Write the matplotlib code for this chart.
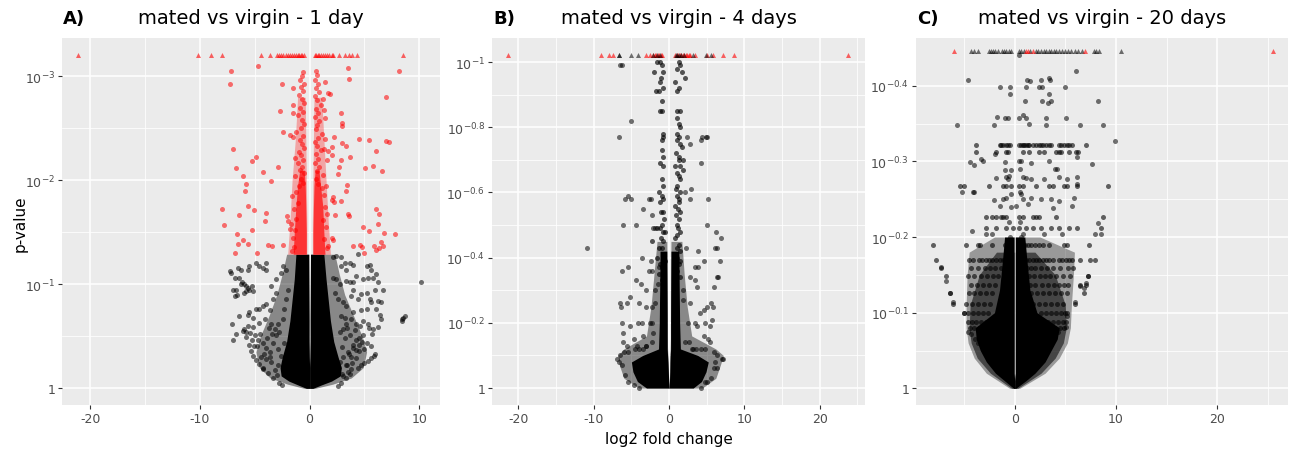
import matplotlib
matplotlib.use("Agg")
import matplotlib.pyplot as plt
import numpy as np

# ---- panel A : mated vs virgin - 1 day  (x = log2 FC, y = -log10 p) ----
a_tri_red_x = [-21.1, -10.2, -9.0, -8.0, -4.4, -3.6, -3.0, -2.8, -2.6, -2.4, -2.2, -2.0,
               -1.8, -1.6, -1.4, -1.25, -1.1, -0.95, -0.8, -0.65, -0.5, 0.45, 0.6, 0.75,
               0.9, 1.05, 1.2, 1.4, 1.6, 1.8, 2.0, 2.15, 2.7, 3.2, 3.6, 3.9, 4.3, 8.5]
a_tri_y = 3.21

a_red_outer = [(-7.2, 3.05), (8.2, 3.05), (-4.7, 3.10), (-7.3, 2.93), (3.5, 3.08), (3.6, 2.98),
               (7.0, 2.80), (-2.5, 2.93), (-2.7, 2.67), (-2.4, 2.47), (-7.0, 2.30), (-4.9, 2.23),
               (-5.3, 2.19), (-6.7, 2.12), (-6.1, 2.04), (-5.8, 1.97), (-5.9, 1.90), (-4.3, 2.08),
               (-2.9, 2.13), (-3.5, 1.99), (-8.0, 1.73), (-7.8, 1.57), (-6.4, 1.67), (-5.6, 1.75),
               (-5.1, 1.72), (-4.0, 1.69), (-4.1, 1.61), (-5.3, 1.52), (-6.6, 1.48), (-6.1, 1.43),
               (-6.5, 1.39), (-6.8, 1.30), (-5.6, 1.39), (-4.8, 1.30), (-3.8, 1.38), (-3.4, 1.37),
               (-2.4, 1.38), (-2.1, 1.66), (-2.0, 1.61), (-1.8, 1.53), (4.5, 2.40), (5.4, 2.39),
               (7.0, 2.38), (7.2, 2.37), (6.1, 2.28), (5.8, 2.14), (5.1, 2.12), (6.6, 2.09),
               (2.9, 2.20), (2.7, 2.13), (2.6, 2.06), (3.7, 2.23), (3.3, 2.33), (3.0, 2.36),
               (2.2, 2.42), (2.0, 2.24), (1.7, 2.28), (3.4, 1.96), (3.3, 1.90), (2.0, 1.81),
               (2.2, 1.79), (2.9, 1.80), (3.5, 1.68), (3.6, 1.66), (6.1, 1.73), (6.3, 1.68),
               (6.2, 1.58), (4.9, 1.55), (5.4, 1.51), (6.8, 1.49), (7.8, 1.48), (5.9, 1.37),
               (6.3, 1.35), (6.5, 1.41), (4.0, 1.37), (4.6, 1.38), (4.8, 1.36), (5.0, 1.30),
               (6.1, 1.33), (6.7, 1.37), (2.3, 1.67), (2.0, 1.45), (2.1, 1.43), (1.7, 1.37),
               (2.9, 2.65), (3.0, 2.55), (3.0, 2.52), (1.4, 2.60), (1.3, 2.68), (1.2, 2.78),
               (1.7, 2.84), (1.9, 2.83), (1.4, 2.95), (-1.5, 2.89), (-1.5, 2.73), (-1.5, 2.65),
               (-1.8, 2.44), (-1.5, 2.42), (1.4, 2.40), (2.0, 2.32), (1.6, 2.20), (2.1, 1.84)]

a_red_column = [(-0.6, 3.04), (-0.7, 3.00), (-0.9, 2.97), (-0.5, 2.93), (-0.8, 2.90), (-0.6, 2.86),
                (-1.0, 2.82), (-0.7, 2.78), (-0.5, 2.74), (-0.9, 2.70), (-0.6, 2.66), (-1.1, 2.63),
                (-0.7, 2.58), (-0.5, 2.54), (-0.8, 2.50), (-1.2, 2.47), (-0.6, 2.43), (-0.9, 2.39),
                (-0.7, 2.35), (-0.5, 2.31), (-1.0, 2.27), (-0.8, 2.24), (-0.6, 2.20), (-1.1, 2.17),
                (-0.7, 2.13), (-0.9, 2.10), (-0.5, 2.07), (-1.3, 2.04), (-0.8, 2.01), (-0.6, 1.98),
                (-1.0, 1.95), (-1.2, 1.89), (-1.1, 1.78), (-1.4, 1.73), (-1.2, 1.63), (-1.3, 1.52),
                (-1.4, 1.36), (-1.5, 1.45), (-1.6, 1.32), (-1.7, 1.58), (-1.6, 1.85), (-1.3, 2.22),
                (0.6, 3.05), (0.7, 3.01), (0.5, 2.97), (0.8, 2.93), (0.6, 2.89), (0.9, 2.85),
                (0.5, 2.81), (0.7, 2.77), (1.0, 2.73), (0.6, 2.69), (0.8, 2.65), (0.5, 2.61),
                (0.9, 2.57), (0.7, 2.53), (0.6, 2.49), (1.1, 2.45), (0.8, 2.41), (0.5, 2.37),
                (0.7, 2.33), (1.0, 2.29), (0.6, 2.25), (0.8, 2.21), (0.5, 2.17), (0.9, 2.13),
                (0.7, 2.09), (1.2, 2.05), (0.6, 2.01), (0.8, 1.97), (1.1, 1.93), (1.3, 1.86),
                (1.4, 1.74), (1.2, 1.62), (1.5, 1.55), (1.3, 1.44), (1.6, 1.35), (1.6, 1.68),
                (1.5, 1.95), (1.3, 2.3)]

# dense part of the significant columns: y, left lobe (xmin, xmax), right lobe (xmin, xmax)
a_red_core_y = [1.29, 1.5, 1.75, 1.95, 2.1]
a_red_left = ([-1.5, -1.4, -1.25, -1.1, -0.9], [-0.3, -0.3, -0.35, -0.4, -0.5])
a_red_right = ([0.3, 0.3, 0.35, 0.4, 0.5], [1.4, 1.3, 1.2, 1.0, 0.85])
a_red_halo_y = [1.29, 1.6, 2.0, 2.4, 2.8]
a_red_halo_left = ([-2.0, -1.8, -1.6, -1.3, -1.1], [-0.25, -0.25, -0.3, -0.35, -0.4])
a_red_halo_right = ([0.25, 0.25, 0.3, 0.35, 0.4], [1.9, 1.7, 1.5, 1.3, 1.1])

a_core_y = [0.0, 0.03, 0.07, 0.12, 0.2, 0.3, 0.45, 0.65, 0.85, 1.05, 1.29]
a_core_left = ([-0.3, -1.0, -1.9, -2.6, -2.7, -2.5, -2.1, -1.8, -1.6, -1.4, -1.25],
               [0.0, 0.0, 0.0, 0.0, 0.0, -0.03, -0.05, -0.05, -0.06, -0.07, -0.08])
a_core_right = ([0.0, 0.0, 0.0, 0.0, 0.0, 0.03, 0.05, 0.05, 0.06, 0.07, 0.08],
                [0.3, 1.0, 2.0, 2.8, 2.9, 2.6, 2.2, 1.9, 1.7, 1.5, 1.3])
a_halo_y = [0.0, 0.04, 0.1, 0.2, 0.35, 0.5, 0.7, 0.9, 1.1, 1.29]
a_halo_left = ([-0.5, -2.0, -3.6, -4.6, -4.9, -4.5, -3.7, -3.0, -2.5, -2.1],
               [0.0, 0.0, 0.0, 0.0, -0.03, -0.05, -0.05, -0.06, -0.07, -0.08])
a_halo_right = ([0.0, 0.0, 0.0, 0.0, 0.03, 0.05, 0.05, 0.06, 0.07, 0.08],
                [0.5, 2.1, 3.8, 4.9, 5.2, 4.8, 4.0, 3.2, 2.7, 2.3])

a_black = [(-7.3, 1.13), (-7.15, 1.11), (-6.85, 1.06), (-6.4, 1.06), (-6.15, 1.02), (-5.95, 1.00),
           (-5.85, 0.98), (-5.6, 0.97), (-5.5, 0.95), (-5.8, 0.94), (-5.95, 0.92), (-7.0, 0.95),
           (-6.85, 0.89), (-6.65, 0.90), (-5.3, 0.98), (-5.2, 0.94), (-6.3, 1.00), (-4.9, 1.21),
           (-4.6, 1.18), (-4.3, 1.16), (-4.0, 1.21), (-4.0, 1.14), (-5.5, 1.18), (-5.6, 1.14),
           (-6.25, 1.14), (-6.55, 1.16), (-6.75, 0.95), (-6.4, 0.70), (-5.6, 0.71), (-5.2, 0.68),
           (-5.5, 0.73), (-4.9, 0.76), (-4.6, 0.76), (-4.3, 0.79), (-4.0, 0.81), (-3.65, 0.75),
           (-3.35, 0.86), (-3.05, 0.92), (-3.5, 0.98), (-3.05, 1.05), (-2.6, 1.11), (-2.45, 1.18),
           (-2.15, 1.14), (-7.05, 0.62), (-6.95, 0.47), (-6.7, 0.52), (-5.95, 0.57), (-5.8, 0.54),
           (-5.2, 0.59), (-5.0, 0.51), (-4.7, 0.47), (-4.3, 0.44), (-4.0, 0.39), (-3.65, 0.35),
           (-4.6, 0.63), (-4.1, 0.67), (-3.5, 0.62), (-3.2, 0.57), (-3.05, 0.51), (-3.35, 0.44),
           (-2.9, 0.38), (-2.6, 0.31), (-3.5, 0.25), (-4.0, 0.28), (-4.3, 0.19), (-2.75, 0.54),
           (-2.45, 0.67), (-2.3, 0.76), (-2.15, 0.86), (-2.0, 0.95), (-2.3, 0.44), (-2.15, 0.25),
           (-6.1, 0.55), (-5.8, 0.49), (-5.55, 0.42), (-5.35, 0.36), (-5.15, 0.31), (-4.9, 0.27),
           (-4.6, 0.23), (-4.3, 0.20), (-5.6, 0.60), (-5.4, 0.53), (-5.25, 0.47), (-5.1, 0.41),
           (-3.8, 0.15), (-3.2, 0.18), (-2.9, 0.22), (-3.6, 0.30), (-4.2, 0.33), (-3.9, 0.48),
           (-3.4, 0.52), (-2.9, 0.62), (-3.7, 0.58), (-4.5, 0.52), (-4.8, 0.41), (-4.4, 0.30),
           (-3.0, 0.13), (-3.3, 0.10), (-2.8, 0.05), (-2.5, 0.03),
           (2.1, 1.26), (2.45, 1.27), (2.9, 1.26), (3.2, 1.21), (3.65, 1.21), (4.4, 1.29),
           (2.9, 1.18), (3.95, 1.19), (3.35, 1.14), (5.2, 1.18), (5.5, 1.19), (5.6, 1.14),
           (6.1, 1.10), (5.8, 1.06), (5.3, 1.06), (4.85, 1.05), (4.25, 1.08), (2.1, 1.06),
           (2.45, 1.05), (2.75, 1.00), (3.35, 1.03), (3.65, 1.02), (4.0, 1.02), (6.2, 1.02),
           (6.7, 0.95), (5.95, 0.95), (5.2, 0.92), (3.95, 0.95), (3.8, 0.89), (4.4, 0.86),
           (4.7, 0.91), (5.5, 0.86), (5.6, 0.83), (6.25, 0.84), (6.5, 0.83), (6.1, 0.76),
           (5.2, 0.76), (4.7, 0.75), (3.95, 0.73), (3.35, 0.79), (3.05, 0.83), (2.6, 0.86),
           (2.3, 0.92), (6.55, 0.67), (6.4, 0.71), (6.25, 0.59), (5.8, 0.57), (5.3, 0.62),
           (4.85, 0.65), (4.25, 0.62), (3.8, 0.67), (3.35, 0.62), (3.05, 0.57), (2.75, 0.54),
           (3.65, 0.51), (4.25, 0.47), (4.85, 0.51), (5.2, 0.44), (5.6, 0.41), (5.0, 0.38),
           (4.55, 0.36), (3.95, 0.39), (3.5, 0.35), (3.05, 0.30), (2.75, 0.25), (3.35, 0.22),
           (3.8, 0.19), (3.65, 0.14), (3.05, 0.12), (10.2, 1.02), (8.4, 0.67), (8.5, 0.68),
           (8.7, 0.70), (8.45, 0.65), (4.4, 0.20), (4.7, 0.22), (5.0, 0.24), (5.3, 0.26),
           (5.6, 0.29), (5.9, 0.31), (6.0, 0.33), (3.0, 0.14), (3.4, 0.22), (3.8, 0.30),
           (4.2, 0.37), (4.5, 0.42), (4.75, 0.45), (3.3, 0.10), (3.5, 0.16), (3.9, 0.24),
           (4.2, 0.29), (3.6, 0.33), (4.0, 0.42), (4.5, 0.48), (3.2, 0.48), (3.0, 0.40),
           (3.4, 0.58), (4.1, 0.56), (4.6, 0.60), (5.4, 0.58), (5.7, 0.52), (2.9, 0.70),
           (3.2, 0.68), (2.9, 0.05), (2.6, 0.02)]

# ---- panel B : mated vs virgin - 4 days ----
b_tri_red_x = [-21.4, -9.1, -8.0, -7.4, -3.0, -2.5, -2.1, -1.9, -1.7, -1.5, -1.3, -1.1, -0.9,
               0.8, 1.0, 1.2, 1.4, 1.6, 1.8, 2.0, 2.2, 2.4, 2.6, 2.8, 3.4, 5.0, 5.8, 7.1, 8.6, 23.8]
b_tri_black_x = [-6.7, -6.6, -5.0, -4.1, -2.2, -1.6, -1.2, 0.9, 1.1, 1.3, 1.6, 2.0, 3.2, 4.9, 5.5]
b_tri_y = 1.023

b_core_y = [0.0, 0.02, 0.05, 0.08, 0.1, 0.12, 0.2, 0.3, 0.42]
b_core_left = ([-3.0, -4.2, -4.8, -5.0, -3.5, -1.4, -1.3, -1.25, -1.2],
               [0.0, -0.05, -0.1, -0.15, -0.2, -0.25, -0.25, -0.27, -0.3])
b_core_right = ([0.0, 0.05, 0.1, 0.12, 0.15, 0.2, 0.2, 0.22, 0.25],
                [3.2, 4.3, 4.9, 5.2, 3.8, 1.5, 1.4, 1.35, 1.3])
b_halo_y = [0.0, 0.03, 0.07, 0.1, 0.12, 0.16, 0.25, 0.35, 0.45]
b_halo_left = ([-4.0, -6.0, -6.6, -6.8, -6.0, -3.0, -2.4, -2.0, -1.6],
               [0.0, -0.05, -0.1, -0.15, -0.2, -0.25, -0.25, -0.27, -0.3])
b_halo_right = ([0.0, 0.05, 0.1, 0.12, 0.15, 0.2, 0.2, 0.22, 0.25],
                [4.4, 6.2, 6.8, 7.2, 6.2, 3.0, 2.4, 2.0, 1.7])

b_column = [(-1.6, 1.0), (-1.2, 1.0), (-1.0, 0.99), (-0.75, 0.97), (-2.0, 0.97), (-1.2, 0.94),
            (-0.85, 0.92), (-1.4, 0.91), (-1.7, 0.91), (-1.1, 0.95), (-1.0, 0.85), (-1.2, 0.85),
            (-0.85, 0.78), (-0.75, 0.77), (-0.9, 0.76), (-1.0, 0.73), (-0.75, 0.71), (-1.2, 0.69),
            (-0.75, 0.68), (-1.3, 0.60), (-1.0, 0.59), (-0.75, 0.58), (-1.2, 0.57), (-0.85, 0.54),
            (-1.1, 0.54), (-1.6, 0.49), (-1.2, 0.49), (-0.75, 0.48), (-0.5, 0.48), (-2.3, 0.45),
            (-0.75, 0.45), (-1.0, 0.43), (-0.85, 0.41), (-1.6, 0.40), (-1.0, 0.37), (-0.75, 0.36),
            (-1.4, 0.35), (-1.0, 0.33), (-0.8, 0.40), (-0.9, 0.50), (-1.0, 0.64), (-0.9, 0.88),
            (-0.8, 0.62), (-1.1, 0.46), (-0.7, 0.52), (-1.3, 0.43), (-0.6, 0.39), (-1.2, 0.38),
            (1.25, 1.0), (1.45, 0.99), (1.0, 0.98), (1.7, 0.97), (2.1, 0.95), (0.8, 0.94),
            (1.25, 0.92), (1.0, 0.91), (1.45, 0.85), (1.0, 0.85), (1.1, 0.83), (1.35, 0.81),
            (1.45, 0.80), (1.0, 0.78), (1.25, 0.77), (1.1, 0.76), (1.45, 0.75), (1.7, 0.74),
            (1.25, 0.71), (1.9, 0.70), (0.8, 0.68), (1.45, 0.68), (1.9, 0.67), (1.25, 0.65),
            (1.45, 0.64), (1.0, 0.62), (1.45, 0.60), (1.0, 0.59), (1.25, 0.58), (0.8, 0.56),
            (1.45, 0.54), (1.25, 0.52), (1.0, 0.50), (1.45, 0.48), (0.8, 0.46), (1.25, 0.44),
            (1.45, 0.42), (1.0, 0.40), (1.25, 0.38), (1.0, 0.36), (1.45, 0.34), (1.1, 0.47),
            (1.2, 0.55), (0.9, 0.61), (1.3, 0.70), (0.9, 0.72), (1.0, 0.66), (1.3, 0.57),
            (0.9, 0.53), (1.1, 0.43), (0.7, 0.41), (1.5, 0.39), (0.9, 0.37), (1.2, 0.49)]

b_black = [(2.4, 0.77), (5.0, 0.77), (4.4, 0.77), (2.8, 0.75), (4.3, 0.69), (2.9, 0.61), (2.1, 0.60),
           (2.8, 0.58), (5.1, 0.58), (-5.8, 0.58), (-5.4, 0.59), (-5.0, 0.58), (-2.7, 0.58),
           (-2.4, 0.58), (-3.5, 0.55), (-2.3, 0.53), (-6.1, 0.50), (-4.4, 0.50), (-2.2, 0.49),
           (-1.9, 0.49), (5.0, 0.50), (6.2, 0.48), (6.9, 0.46), (6.1, 0.43), (6.3, 0.43),
           (3.9, 0.42), (2.3, 0.43), (-10.9, 0.43), (-3.6, 0.40), (-2.4, 0.39), (-6.3, 0.36),
           (-5.5, 0.37), (-2.7, 0.36), (-2.3, 0.36), (-1.3, 0.37), (3.5, 0.37), (4.6, 0.39),
           (3.9, 0.37), (6.7, 0.39), (-4.4, 0.33), (-3.7, 0.32), (-3.0, 0.30), (-1.5, 0.32),
           (2.8, 0.34), (3.5, 0.33), (3.7, 0.31), (5.9, 0.31), (6.3, 0.34), (6.5, 0.34),
           (-5.2, 0.28), (-5.6, 0.26), (-6.5, 0.26), (-6.4, 0.25), (-4.0, 0.26), (-3.0, 0.25),
           (-2.3, 0.25), (-1.9, 0.26), (1.9, 0.27), (2.8, 0.26), (4.1, 0.23), (4.6, 0.24),
           (5.0, 0.25), (5.5, 0.26), (5.8, 0.25), (-6.3, 0.20), (-5.2, 0.19), (-6.1, 0.17),
           (-4.1, 0.20), (-3.6, 0.20), (-2.3, 0.20), (3.5, 0.20), (3.7, 0.19), (4.8, 0.20),
           (5.4, 0.19), (5.7, 0.21), (-6.1, 0.14), (-5.6, 0.13), (-4.7, 0.15), (-4.3, 0.13),
           (-3.4, 0.16), (-3.0, 0.13), (-2.1, 0.17), (-2.3, 0.14), (2.1, 0.14), (2.6, 0.14),
           (3.2, 0.12), (4.6, 0.16), (5.2, 0.15), (5.4, 0.14), (-6.95, 0.09), (-6.7, 0.08),
           (7.2, 0.09), (7.0, 0.09), (6.1, 0.08), (6.3, 0.06), (4.8, 0.02), (5.0, 0.02),
           (-6.5, 0.99), (-6.3, 0.99), (-5.0, 0.82), (-6.6, 0.77), (4.3, 0.76), (4.9, 0.77),
           (-6.5, 0.10), (-6.2, 0.07), (-5.9, 0.04), (-5.4, 0.02), (-4.6, 0.01), (-6.0, 0.11),
           (-5.5, 0.11), (6.0, 0.11), (6.4, 0.10), (5.9, 0.06), (5.5, 0.03), (4.2, 0.0),
           (-4.0, 0.0), (-3.0, 0.13), (-3.5, 0.12), (-4.0, 0.12), (-4.5, 0.12), (3.0, 0.12),
           (3.6, 0.12), (4.2, 0.12), (4.8, 0.12), (-2.5, 0.2), (2.5, 0.2), (-1.9, 0.3), (1.8, 0.3)]

# ---- panel C : mated vs virgin - 20 days ----
c_tri_red_x = [-5.95, 1.1, 1.3, 1.8, 6.95, 25.5]
c_tri_black_x = [-4.3, -4.0, -3.6, -2.5, -2.3, -2.1, -1.9, -1.6, -1.3, -1.1, -0.9, -0.6, -0.35,
                 0.4, 0.6, 0.9, 1.5, 2.1, 2.3, 2.6, 2.9, 3.1, 3.4, 3.6, 3.9, 4.1, 4.4, 4.7, 5.0,
                 5.3, 5.6, 6.0, 6.3, 6.6, 7.8, 8.0, 8.3, 10.5]
c_tri_y = 0.446

c_core_y = [0.0, 0.01, 0.02, 0.035, 0.05, 0.065, 0.08, 0.1, 0.13, 0.17, 0.2]
c_core_left = ([-0.1, -1.0, -1.9, -2.8, -3.4, -3.8, -3.9, -2.0, -1.5, -1.2, -1.0],
               [0.0, 0.0, -0.06, -0.06, -0.06, -0.06, -0.06, -0.06, -0.06, -0.06, -0.06])
c_core_right = ([0.0, 0.0, 0.06, 0.06, 0.06, 0.06, 0.06, 0.06, 0.06, 0.06, 0.06],
                [0.1, 1.1, 2.0, 3.0, 3.6, 4.2, 4.4, 2.2, 1.5, 1.2, 1.0])
c_mid_y = [0.0, 0.02, 0.04, 0.06, 0.08, 0.11, 0.15, 0.18]
c_mid_left = ([-0.3, -2.4, -3.7, -4.3, -4.5, -4.4, -3.5, -1.8],
              [0.0, -0.06, -0.06, -0.06, -0.06, -0.06, -0.06, -0.06])
c_mid_right = ([0.0, 0.06, 0.06, 0.06, 0.06, 0.06, 0.06, 0.06],
               [0.3, 2.6, 4.0, 4.8, 5.1, 5.0, 4.0, 2.0])
c_halo_y = [0.0, 0.02, 0.04, 0.06, 0.08, 0.11, 0.15, 0.18, 0.2]
c_halo_left = ([-0.5, -2.8, -4.0, -4.6, -4.8, -4.8, -4.7, -4.5, -2.0],
               [0.0, -0.06, -0.06, -0.06, -0.06, -0.06, -0.06, -0.06, -0.06])
c_halo_right = ([0.0, 0.06, 0.06, 0.06, 0.06, 0.06, 0.06, 0.06, 0.06],
                [0.5, 3.0, 4.4, 5.2, 5.5, 5.6, 5.8, 5.9, 2.5])

# p-value levels shared by many genes (horizontal bands)
c_band_y = [0.322, 0.312, 0.268, 0.226, 0.212, 0.190, 0.170, 0.159, 0.148, 0.137,
            0.126, 0.112, 0.099, 0.088, 0.080]
c_band_x = [[-3.8, -1.5, -1.35, -1.2, -0.85, -0.7, -0.5, 0.45, 0.6, 0.8, 0.95, 1.1, 1.3, 1.45,
             1.8, 2.1, 2.4, 2.6, 2.8, 3.1, 3.4, 3.6, 4.4, 4.55, 4.9, 5.2, 5.4, 5.7, 7.0],
            [-3.8, -1.8, -0.85, -0.7, 0.8, 1.45, 2.4, 2.9, 4.1, 4.4, 4.55, 5.4, 6.05, 6.3],
            [-5.4, -5.0, -2.5, -1.2, -0.9, -0.35, 0.45, 0.8, 2.1, 3.4, 3.75, 4.9, 5.2, 6.2, 9.2],
            [-2.8, -2.2, -1.8, -1.35, -1.2, -0.85, 0.45, 0.8, 1.8, 2.1, 2.4, 4.1, 8.7],
            [-2.8, -1.8, -0.85, -0.2, 0.45, 1.1, 1.8, 2.6, 3.6, 4.4, 5.4, 6.2, 8.5],
            [-8.1, -4.8, -3.6, -3.4, -2.2, -1.0, -0.6, 0.45, 0.6, 0.8, 1.0, 1.3, 1.6, 2.0,
             2.4, 2.8, 3.4, 4.9, 5.2, 7.3],
            [-7.8, -4.5, -4.1, -3.5, -3.2, -2.8, -2.5, -2.2, -1.8, -1.5, -1.2, -0.9, -0.5, 0.45,
             0.6, 0.8, 1.1, 1.4, 1.8, 2.1, 2.4, 2.8, 3.1, 3.4, 3.75, 4.4, 4.7, 5.1, 5.4, 5.7,
             6.5, 7.4, 7.9],
            [-7.3, -4.3, -3.6, -2.9, -2.4, -1.9, -1.4, 1.2, 1.6, 2.0, 2.6, 3.2, 3.8, 4.5, 5.3, 5.8],
            [-6.8, -4.6, -4.0, -3.3, -2.7, -2.1, -1.6, 1.4, 1.9, 2.5, 3.0, 3.5, 4.1, 4.8, 5.5, 7.2],
            [-4.3, -3.7, -3.1, -2.5, -1.9, 1.5, 2.0, 2.7, 3.3, 3.9, 4.4, 4.9, 5.3, 6.5, 7.0],
            [-6.4, -4.5, -4.0, -3.4, -2.8, -2.2, 1.6, 2.2, 2.8, 3.4, 4.0, 4.6, 5.2, 6.8],
            [-6.1, -4.8, -4.2, -3.6, -3.0, -2.4, 1.8, 2.4, 3.0, 3.6, 4.2, 4.8, 6.0],
            [-5.0, -4.6, -4.1, -3.6, -3.1, -2.6, 2.6, 3.1, 3.6, 4.1, 4.6, 5.0, 5.2],
            [-4.6, -4.2, -3.8, -3.3, -2.8, 2.8, 3.3, 3.8, 4.3, 4.8, 5.1],
            [-4.4, -4.0, -3.5, -3.0, 3.0, 3.5, 4.0, 4.5, 4.9]]

c_black = [(0.4, 0.44), (6.05, 0.42), (-4.6, 0.407), (1.2, 0.407), (1.5, 0.406), (2.6, 0.408),
           (3.4, 0.41), (3.5, 0.407), (-1.45, 0.398), (-0.5, 0.398), (-0.5, 0.389), (1.1, 0.398),
           (2.4, 0.398), (2.7, 0.398), (5.0, 0.398), (3.4, 0.389), (1.0, 0.38), (2.7, 0.38),
           (3.6, 0.38), (3.3, 0.377), (8.2, 0.38), (-5.7, 0.348), (-2.0, 0.348), (-1.7, 0.359),
           (-1.0, 0.357), (-0.7, 0.357), (0.4, 0.357), (0.8, 0.361), (1.1, 0.357), (1.45, 0.35),
           (3.1, 0.348), (3.1, 0.357), (5.1, 0.357), (6.5, 0.348), (8.7, 0.348), (9.9, 0.327),
           (-4.4, 0.299), (-4.0, 0.295), (-3.3, 0.303), (-3.1, 0.301), (-1.9, 0.31), (-1.0, 0.299),
           (0.45, 0.301), (1.6, 0.298), (3.4, 0.3), (6.2, 0.306), (7.6, 0.297), (-0.95, 0.288),
           (-0.35, 0.288), (0.5, 0.29), (4.0, 0.29), (4.2, 0.29), (-1.8, 0.278), (-0.9, 0.279),
           (-0.7, 0.277), (0.8, 0.279), (1.1, 0.278), (1.6, 0.277), (2.9, 0.277), (4.4, 0.279),
           (5.2, 0.277), (6.2, 0.279), (6.2, 0.27), (-4.1, 0.259), (-4.0, 0.259), (-5.2, 0.259),
           (-2.0, 0.249), (-1.2, 0.25), (-0.85, 0.252), (-0.35, 0.257), (0.6, 0.257), (0.8, 0.25),
           (1.6, 0.252), (2.6, 0.25), (3.6, 0.25), (4.4, 0.248), (5.9, 0.252), (5.7, 0.241),
           (3.75, 0.239), (1.3, 0.244), (0.1, 0.241), (-1.5, 0.241), (8.2, 0.218), (7.9, 0.204),
           (8.5, 0.204), (-4.2, 0.208), (-2.8, 0.204), (-2.2, 0.204), (0.8, 0.204), (2.9, 0.204),
           (4.7, 0.204), (-7.3, 0.16), (-6.8, 0.142), (-6.4, 0.126), (-6.1, 0.114), (-5.0, 0.099),
           (-4.6, 0.075), (-4.3, 0.072), (7.2, 0.148), (7.0, 0.139), (6.8, 0.132), (6.5, 0.135),
           (6.0, 0.114), (5.2, 0.095), (5.1, 0.081), (-3.9, 0.065), (-3.6, 0.06), (3.6, 0.065),
           (4.0, 0.07), (4.3, 0.075), (-0.6, 0.22), (-0.5, 0.2), (-0.7, 0.185), (0.5, 0.22),
           (0.6, 0.2), (0.4, 0.185), (-0.4, 0.24), (0.5, 0.26), (-0.6, 0.28), (0.6, 0.3)]


def ggplot_axes(ax, xlim, ylim, xmajor, xminor, ymajor, yminor, ylabels):
    ax.set_facecolor("#EBEBEB")
    for s in ax.spines.values():
        s.set_visible(False)
    ax.set_xlim(xlim)
    ax.set_ylim(ylim)
    for v in xminor:
        ax.axvline(v, color="white", lw=0.55, zorder=0)
    for v in yminor:
        ax.axhline(v, color="white", lw=0.55, zorder=0)
    for v in xmajor:
        ax.axvline(v, color="white", lw=1.1, zorder=0)
    for v in ymajor:
        ax.axhline(v, color="white", lw=1.1, zorder=0)
    ax.set_xticks(xmajor)
    ax.set_xticklabels([str(v) for v in xmajor])
    ax.set_yticks(ymajor)
    ax.set_yticklabels(ylabels)
    ax.tick_params(axis="both", colors="#333333", labelcolor="#4D4D4D",
                   labelsize=9, length=3, width=0.8, pad=2)


def draw_core(ax, y, left, right, color="black", alpha=1.0):
    ax.fill_betweenx(y, left[0], left[1], color=color, alpha=alpha, lw=0, zorder=2)
    ax.fill_betweenx(y, right[0], right[1], color=color, alpha=alpha, lw=0, zorder=2)


def dots(ax, pts, color, alpha=0.55):
    arr = np.array(pts)
    ax.scatter(arr[:, 0], arr[:, 1], s=13, color=color, alpha=alpha, lw=0, zorder=3)


def tris(ax, xs, y, color, alpha=0.6):
    ax.scatter(xs, [y] * len(xs), s=13, marker="^", color=color, alpha=alpha, lw=0, zorder=4)


fig = plt.figure(figsize=(12.89, 4.52), dpi=100)
W, H = 1289.0, 452.0
axA = fig.add_axes([62 / W, 1 - 406 / H, 378 / W, 367 / H])
axB = fig.add_axes([492 / W, 1 - 406 / H, 373 / W, 367 / H])
axC = fig.add_axes([916 / W, 1 - 406 / H, 372 / W, 367 / H])

# panel A
labels_a = ["1", r"$10^{-1}$", r"$10^{-2}$", r"$10^{-3}$"]
ggplot_axes(axA, (-22.6, 11.9), (-0.16, 3.37), [-20, -10, 0, 10], [-15, -5, 5],
            [0, 1, 2, 3], [0.5, 1.5, 2.5], labels_a)
draw_core(axA, a_halo_y, a_halo_left, a_halo_right, alpha=0.42)
draw_core(axA, a_core_y, a_core_left, a_core_right)
dots(axA, a_black, "black")
draw_core(axA, a_red_halo_y, a_red_halo_left, a_red_halo_right, color="red", alpha=0.3)
draw_core(axA, a_red_core_y, a_red_left, a_red_right, color="#FF2020", alpha=0.85)
dots(axA, a_red_column, "red", 0.55)
dots(axA, a_red_outer, "red", 0.55)
tris(axA, a_tri_red_x, a_tri_y, "red")

# panel B
labels_b = ["1", r"$10^{-0.2}$", r"$10^{-0.4}$", r"$10^{-0.6}$", r"$10^{-0.8}$", r"$10^{-1}$"]
ggplot_axes(axB, (-23.5, 26.0), (-0.052, 1.074), [-20, -10, 0, 10, 20], [-15, -5, 5, 15, 25],
            [0, 0.2, 0.4, 0.6, 0.8, 1.0], [0.1, 0.3, 0.5, 0.7, 0.9], labels_b)
draw_core(axB, b_halo_y, b_halo_left, b_halo_right, alpha=0.42)
draw_core(axB, b_core_y, b_core_left, b_core_right)
dots(axB, b_column, "black", 0.65)
dots(axB, b_black, "black")
tris(axB, b_tri_red_x, b_tri_y, "red")
tris(axB, b_tri_black_x, b_tri_y, "black", 0.55)

# panel C
labels_c = ["1", r"$10^{-0.1}$", r"$10^{-0.2}$", r"$10^{-0.3}$", r"$10^{-0.4}$"]
ggplot_axes(axC, (-9.75, 27.0), (-0.022, 0.463), [0, 10, 20], [-5, 5, 15, 25],
            [0, 0.1, 0.2, 0.3, 0.4], [0.05, 0.15, 0.25, 0.35], labels_c)
draw_core(axC, c_halo_y, c_halo_left, c_halo_right, alpha=0.35)
draw_core(axC, c_mid_y, c_mid_left, c_mid_right, alpha=0.55)
draw_core(axC, c_core_y, c_core_left, c_core_right)
band_pts = [(x, yv) for yv, xs in zip(c_band_y, c_band_x) for x in xs]
dots(axC, band_pts, "black", 0.6)
dots(axC, c_black, "black")
tris(axC, c_tri_black_x, c_tri_y, "black", 0.55)
tris(axC, c_tri_red_x, c_tri_y, "red")

# titles and labels
for ax, tag, title in [(axA, "A)", "mated vs virgin - 1 day"),
                       (axB, "B)", "mated vs virgin - 4 days"),
                       (axC, "C)", "mated vs virgin - 20 days")]:
    pos = ax.get_position()
    fig.text(pos.x0 + 0.001, 1 - 19 / H, tag, fontsize=13, fontweight="bold", va="center")
    fig.text((pos.x0 + pos.x1) / 2, 1 - 19 / H, title, fontsize=14, ha="center", va="center")

fig.text(20 / W, 0.505, "p-value", rotation=90, fontsize=11, ha="center", va="center")
fig.text(669 / W, 1 - 440 / H, "log2 fold change", fontsize=11, ha="center", va="center")

fig.savefig("out.png", dpi=100)
